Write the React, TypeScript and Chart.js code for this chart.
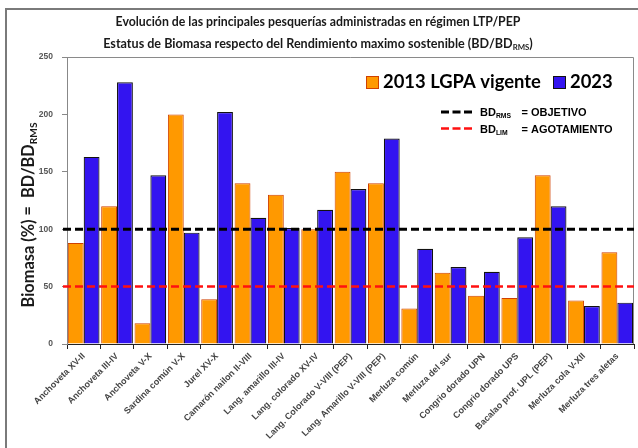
import React, { useEffect, useRef } from "react";
import { Chart, registerables } from "chart.js";

Chart.register(...registerables);

const categories = [
  "Anchoveta XV-II",
  "Anchoveta III-IV",
  "Anchoveta V-X",
  "Sardina común V-X",
  "Jurel XV-X",
  "Camarón nailon II-VIII",
  "Lang. amarillo III-IV",
  "Lang. colorado XV-IV",
  "Lang. Colorado V-VIII (PEP)",
  "Lang. Amarillo V-VIII (PEP)",
  "Merluza común",
  "Merluza del sur",
  "Congrio dorado UPN",
  "Congrio dorado UPS",
  "Bacalao prof. UPL (PEP)",
  "Merluza cola V-XII",
  "Merluza tres aletas",
];

const values2013 = [88, 120, 18, 200, 39, 140, 130, 100, 150, 140, 31, 62, 42, 40, 147, 38, 80];
const values2023 = [163, 228, 147, 97, 202, 110, 101, 117, 135, 179, 83, 67, 63, 93, 120, 33, 36];

const label2013 = "2013 LGPA vigente";
const label2023 = "2023";
const yMin = 0;
const yMax = 250;
const yStep = 50;
const refObjetivo = 100;
const refLimite = 50;

const titleLine1 = "Evolución de las principales pesquerías administradas en régimen LTP/PEP";
const titleLine2 = "Estatus de Biomasa respecto del Rendimiento maximo sostenible (BD/BD";

const ORANGE = "#FF9900";
const ORANGE_BORDER = "#D04000";
const BLUE = "#3314F0";
const BLUE_BORDER = "#111111";
const LATO = "Lato, 'Open Sans', sans-serif";
const ARIAL = "'Liberation Sans', Arial, sans-serif";

type Part = { t: string; sub?: boolean };

function measureParts(ctx: CanvasRenderingContext2D, parts: Part[], size: number, family: string) {
  let total = 0;
  for (const p of parts) {
    ctx.font = `bold ${p.sub ? size * 0.62 : size}px ${family}`;
    total += ctx.measureText(p.t).width;
  }
  return total;
}

function fitSize(ctx: CanvasRenderingContext2D, parts: Part[], family: string, target: number) {
  const w = measureParts(ctx, parts, 100, family);
  return (100 * target) / w;
}

function drawParts(
  ctx: CanvasRenderingContext2D,
  parts: Part[],
  x: number,
  baseline: number,
  size: number,
  family: string,
  align: "left" | "center",
  color: string
) {
  const total = measureParts(ctx, parts, size, family);
  let cur = align === "center" ? x - total / 2 : x;
  ctx.fillStyle = color;
  ctx.textAlign = "left";
  ctx.textBaseline = "alphabetic";
  for (const p of parts) {
    ctx.font = `bold ${p.sub ? size * 0.62 : size}px ${family}`;
    ctx.fillText(p.t, cur, baseline + (p.sub ? size * 0.22 : 0));
    cur += ctx.measureText(p.t).width;
  }
  return total;
}

const decorPlugin = {
  id: "decor",
  beforeDraw(chart: any) {
    const ctx: CanvasRenderingContext2D = chart.ctx;
    ctx.save();
    ctx.fillStyle = "#ffffff";
    ctx.fillRect(0, 0, chart.width, chart.height);
    ctx.strokeStyle = "#7a7a7a";
    ctx.lineWidth = 2;
    ctx.strokeRect(6, 9, chart.width + 20, chart.height + 20);
    ctx.restore();
  },
  afterDatasetsDraw(chart: any) {
    const ctx: CanvasRenderingContext2D = chart.ctx;
    const a = chart.chartArea;
    const y = chart.scales.y;
    ctx.save();
    ctx.strokeStyle = "#8a8a8a";
    ctx.lineWidth = 1;
    ctx.beginPath();
    ctx.moveTo(a.left, a.top + 0.5);
    ctx.lineTo(a.right - 0.5, a.top + 0.5);
    ctx.lineTo(a.right - 0.5, a.bottom);
    ctx.stroke();

    const ref = (v: number, color: string, w: number) => {
      const py = y.getPixelForValue(v);
      ctx.setLineDash([8, 4]);
      ctx.strokeStyle = color;
      ctx.lineWidth = w;
      ctx.beginPath();
      ctx.moveTo(a.left - 4, py);
      ctx.lineTo(a.right, py);
      ctx.stroke();
    };
    ref(refObjetivo, "#000000", 3);
    ref(refLimite, "#FF1010", 2.5);
    ctx.restore();
  },
  afterDraw(chart: any) {
    const ctx: CanvasRenderingContext2D = chart.ctx;
    ctx.save();

    // Titles
    const t1: Part[] = [{ t: titleLine1 }];
    const t2: Part[] = [{ t: titleLine2 }, { t: "RMS", sub: true }, { t: ")" }];
    const s1 = fitSize(ctx, t1, LATO, 405);
    const s2 = fitSize(ctx, t2, LATO, 430);
    drawParts(ctx, t1, 318, 22 + s1 * 0.36, s1, LATO, "center", "#1a1a1a");
    drawParts(ctx, t2, 318, 43 + s2 * 0.36, s2, LATO, "center", "#1a1a1a");

    // Y axis title
    const yt: Part[] = [{ t: "Biomasa (%) =  BD/BD" }, { t: "RMS", sub: true }];
    const sy = fitSize(ctx, yt, LATO, 185);
    ctx.save();
    ctx.translate(28, 215);
    ctx.rotate(-Math.PI / 2);
    drawParts(ctx, yt, 0, sy * 0.36, sy, LATO, "center", "#1a1a1a");
    ctx.restore();

    // Big legend
    const ls = fitSize(ctx, [{ t: label2013 }], LATO, 158);
    ctx.lineWidth = 1;
    ctx.fillStyle = ORANGE;
    ctx.fillRect(366.5, 76.5, 12, 12);
    ctx.strokeStyle = ORANGE_BORDER;
    ctx.strokeRect(366.5, 76.5, 12, 12);
    drawParts(ctx, [{ t: label2013 }], 383, 88, ls, LATO, "left", "#000");
    ctx.fillStyle = BLUE;
    ctx.fillRect(553.5, 76.5, 12, 12);
    ctx.strokeStyle = BLUE_BORDER;
    ctx.strokeRect(553.5, 76.5, 12, 12);
    drawParts(ctx, [{ t: label2023 }], 570, 88, ls, LATO, "left", "#000");

    // Reference line legend
    const line = (yy: number, color: string, w: number) => {
      ctx.setLineDash([8, 3.5]);
      ctx.strokeStyle = color;
      ctx.lineWidth = w;
      ctx.beginPath();
      ctx.moveTo(441, yy);
      ctx.lineTo(472, yy);
      ctx.stroke();
      ctx.setLineDash([]);
    };
    line(112, "#000", 3);
    line(128.5, "#FF1010", 2.5);
    drawParts(ctx, [{ t: "BD" }, { t: "RMS", sub: true }], 480, 116, 11, ARIAL, "left", "#000");
    drawParts(ctx, [{ t: "= OBJETIVO" }], 521.5, 116, 11, ARIAL, "left", "#000");
    drawParts(ctx, [{ t: "BD" }, { t: "LIM", sub: true }], 480, 132.5, 11, ARIAL, "left", "#000");
    drawParts(ctx, [{ t: "= AGOTAMIENTO" }], 521.5, 132.5, 11, ARIAL, "left", "#000");

    ctx.restore();
  },
};

export default function App() {
  const canvasRef = useRef<HTMLCanvasElement | null>(null);

  useEffect(() => {
    const canvas = canvasRef.current;
    if (!canvas) return;
    const chart = new Chart(canvas, {
      type: "bar",
      data: {
        labels: categories,
        datasets: [
          {
            label: label2013,
            data: values2013,
            backgroundColor: ORANGE,
            borderColor: ORANGE_BORDER,
            borderWidth: 1,
            categoryPercentage: 0.95,
            barPercentage: 1.0,
          },
          {
            label: label2023,
            data: values2023,
            backgroundColor: BLUE,
            borderColor: BLUE_BORDER,
            borderWidth: 1.2,
            categoryPercentage: 0.95,
            barPercentage: 1.0,
          },
        ],
      },
      options: {
        responsive: false,
        animation: false,
        layout: { padding: { top: 57, right: 4, left: 0, bottom: 0 } },
        plugins: {
          legend: { display: false },
          title: { display: false },
          tooltip: { enabled: false },
        },
        scales: {
          x: {
            grid: {
              drawOnChartArea: false,
              drawTicks: true,
              tickLength: 5,
              color: "#222",
              offset: true,
            },
            border: { color: "#222", width: 1 },
            ticks: {
              autoSkip: false,
              maxRotation: 45,
              minRotation: 45,
              color: "#444",
              padding: 2,
              font: { family: ARIAL, size: 9, weight: "bold" },
            },
            afterFit: (s: any) => {
              s.height = 104;
            },
          },
          y: {
            min: yMin,
            max: yMax,
            ticks: {
              stepSize: yStep,
              color: "#555",
              padding: 9,
              font: { family: ARIAL, size: 8.5, weight: "bold" },
            },
            grid: { drawOnChartArea: false, drawTicks: true, tickLength: 5, color: "#888" },
            border: { color: "#888" },
            afterFit: (s: any) => {
              s.width = 67;
            },
          },
        },
      },
      plugins: [decorPlugin],
    } as any);
    return () => chart.destroy();
  }, []);

  return (
    <div style={{ position: "fixed", left: 0, top: 0, width: 638, height: 448, background: "#fff" }}>
      <canvas ref={canvasRef} width={638} height={448} style={{ width: 638, height: 448, display: "block" }} />
    </div>
  );
}
